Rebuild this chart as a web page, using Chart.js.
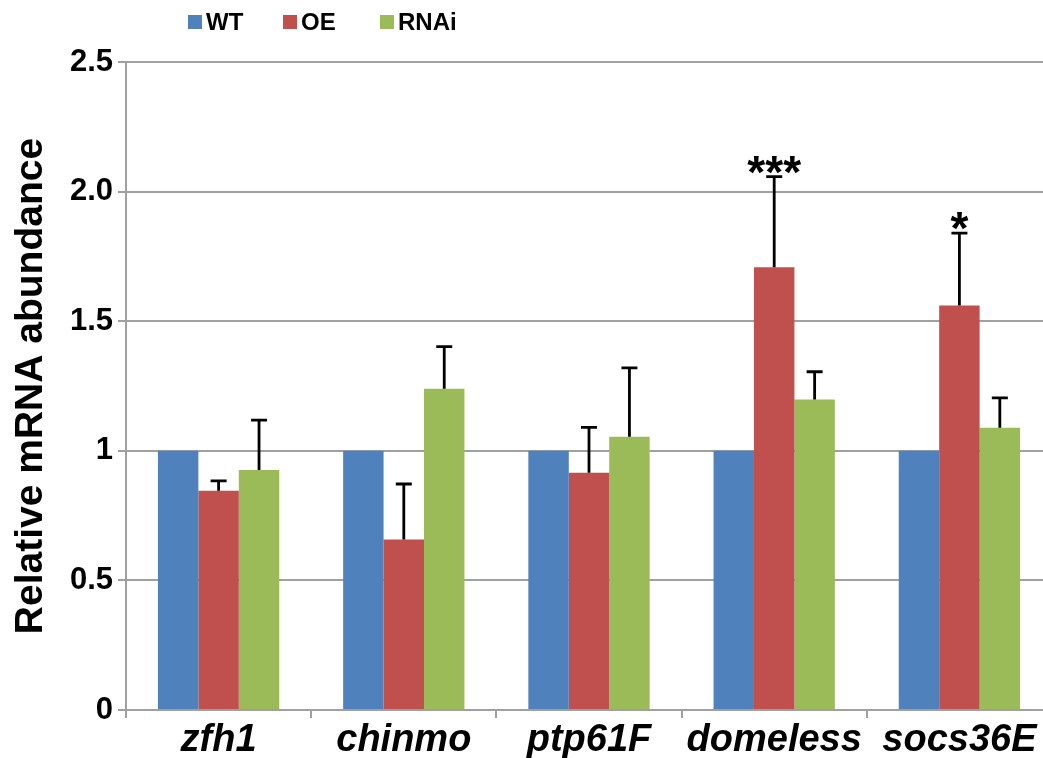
<!DOCTYPE html>
<html>
<head>
<meta charset="utf-8">
<script src="https://cdn.jsdelivr.net/npm/chart.js@4.4.1/dist/chart.umd.min.js"></script>
<style>
html, body { margin: 0; padding: 0; background: #fff; overflow: hidden; }
#wrap { width: 1052px; height: 758px; position: relative; }
</style>
</head>
<body>
<div id="wrap"><canvas id="c"></canvas></div>
<script>
// Werte
const genes = ['zfh1', 'chinmo', 'ptp61F', 'domeless', 'socs36E'];
const wt = [1, 1, 1, 1, 1];
const oe = [0.846, 0.658, 0.915, 1.708, 1.561];
const rnai = [0.926, 1.239, 1.054, 1.198, 1.089];
const oeErr = [0.038, 0.214, 0.175, 0.350, 0.279];
const rnaiErr = [0.192, 0.163, 0.266, 0.107, 0.115];
const oeSig = ['', '', '', '***', '*'];
const yTickLabels = ['0', '0.5', '1', '1.5', '2.0', '2.5'];

const FONT = '"Liberation Sans", Arial, sans-serif';
const GRID = '#a0a0a0';

// Fehlerbalken (nur nach oben) + Sternchen
const errorBars = {
    id: 'errorBars',
    afterDatasetsDraw(chart) {
        const ctx = chart.ctx;
        const yScale = chart.scales.y;
        ctx.save();
        ctx.strokeStyle = '#000';
        ctx.fillStyle = '#000';
        ctx.lineWidth = 2.8;
        chart.data.datasets.forEach((ds, i) => {
            if (!ds.errors) return;
            const meta = chart.getDatasetMeta(i);
            meta.data.forEach((bar, j) => {
                const e = ds.errors[j];
                if (!e) return;
                const top = yScale.getPixelForValue(ds.data[j] + e);
                ctx.beginPath();
                ctx.moveTo(bar.x, bar.y);
                ctx.lineTo(bar.x, top);
                ctx.moveTo(bar.x - 8, top);
                ctx.lineTo(bar.x + 8, top);
                ctx.stroke();
                if (ds.sig && ds.sig[j]) {
                    ctx.font = 'bold 46px ' + FONT;
                    ctx.textAlign = 'center';
                    ctx.textBaseline = 'alphabetic';
                    ctx.fillText(ds.sig[j], bar.x, top + 11);
                }
            });
        });
        ctx.restore();
    }
};

// eigene Legende oben links
const topLegend = {
    id: 'topLegend',
    afterDraw(chart) {
        const ctx = chart.ctx;
        const xs = [188, 283, 380];
        ctx.save();
        ctx.font = 'bold 24px ' + FONT;
        ctx.textBaseline = 'middle';
        ctx.textAlign = 'left';
        chart.data.datasets.forEach((ds, i) => {
            ctx.fillStyle = ds.backgroundColor;
            ctx.fillRect(xs[i], 15, 14, 14);
            ctx.fillStyle = '#000';
            ctx.fillText(ds.label, xs[i] + 18, 23);
        });
        ctx.restore();
    }
};

new Chart(document.getElementById('c'), {
    type: 'bar',
    data: {
        labels: genes,
        datasets: [
            { label: 'WT', data: wt, backgroundColor: '#4F81BD' },
            { label: 'OE', data: oe, backgroundColor: '#C0504D', errors: oeErr, sig: oeSig },
            { label: 'RNAi', data: rnai, backgroundColor: '#9BBB59', errors: rnaiErr }
        ]
    },
    options: {
        responsive: true,
        maintainAspectRatio: false,
        animation: false,
        layout: { padding: { top: 62, left: 0, right: 0, bottom: 0 } },
        datasets: {
            bar: { categoryPercentage: 0.655, barPercentage: 1.0, borderWidth: 0 }
        },
        plugins: {
            legend: { display: false },
            tooltip: { enabled: false }
        },
        scales: {
            x: {
                grid: { display: true, drawOnChartArea: false, offset: true, tickLength: 8, color: GRID, lineWidth: 2 },
                border: { color: GRID, width: 2 },
                ticks: {
                    color: '#000',
                    padding: 0,
                    font: { family: FONT, size: 38, weight: 'bold', style: 'italic' }
                },
                afterFit(scale) { scale.height = 48; }
            },
            y: {
                min: 0,
                max: 2.5,
                grid: { color: GRID, lineWidth: 2, tickLength: 8 },
                border: { color: GRID, width: 2 },
                ticks: {
                    stepSize: 0.5,
                    color: '#000',
                    padding: 5,
                    font: { family: FONT, size: 31, weight: 'bold' },
                    callback: (v, idx) => yTickLabels[idx]
                },
                title: {
                    display: true,
                    text: 'Relative mRNA abundance',
                    color: '#000',
                    padding: { top: 8, bottom: 0 },
                    font: { family: FONT, size: 39, weight: 'bold' }
                },
                afterFit(scale) { scale.width = 126; }
            }
        }
    },
    plugins: [errorBars, topLegend]
});
</script>
</body>
</html>
